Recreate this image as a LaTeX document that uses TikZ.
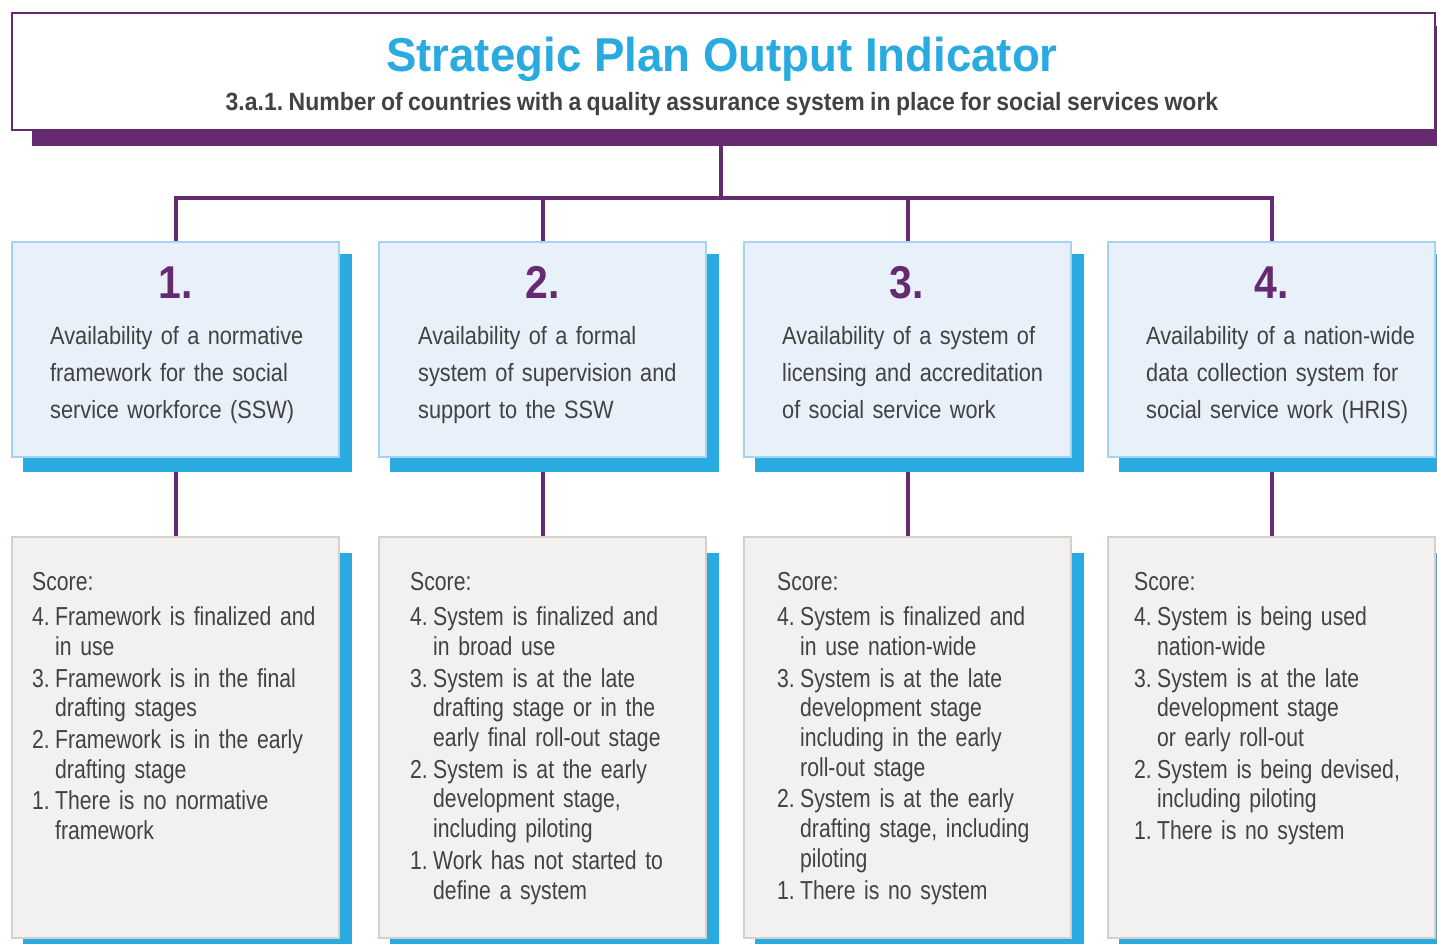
\documentclass[tikz,border=0pt]{standalone}
\usepackage{fontspec}
\setmainfont{Liberation Sans}
\newfontfamily\titlefont[FakeStretch=0.96]{Liberation Sans}
\newfontfamily\subfont[FakeStretch=0.92,WordSpace=0.85]{Liberation Sans}
\newfontfamily\numfont[FakeStretch=0.89]{Liberation Sans}
\newfontfamily\leadfont[FakeStretch=0.87,WordSpace=0.7]{Liberation Sans}
\newfontfamily\scorefont[FakeStretch=0.815,WordSpace=0.7]{Liberation Sans}
\usetikzlibrary{backgrounds}
\frenchspacing

\definecolor{plum}{HTML}{662A70}
\definecolor{sky}{HTML}{29ABE2}
\definecolor{paleblue}{HTML}{E8F0FA}
\definecolor{paleedge}{HTML}{A8D3F0}
\definecolor{stone}{HTML}{F2F1EF}
\definecolor{stoneedge}{HTML}{D6D0C9}
\definecolor{ink}{HTML}{424242}

% heading line of a score list, followed by a little extra space
\newcommand\scorehead{\setlength{\parskip}{2pt}\setlength{\parindent}{0pt}%
  \noindent Score:\par\vskip 4pt\relax}
% one numbered line of a score list, with a hanging indent
\newcommand\scoreitem[2]{\hangindent=23pt\hangafter=1\noindent\makebox[23pt][l]{#1}#2\par}

\tikzset{
  hdrbox/.style={draw=plum, line width=2pt, fill=white, minimum width=1423pt,
    minimum height=117pt, inner sep=0pt},
  topbox/.style={draw=paleedge, line width=2pt, fill=paleblue, minimum width=327pt,
    minimum height=215pt, inner sep=0pt},
  scorebox/.style={draw=stoneedge, line width=2.5pt, fill=stone, minimum width=327pt,
    minimum height=401pt, inner sep=0pt},
  conn/.style={draw=plum, line width=4pt},
  numtext/.style={anchor=base, inner sep=0pt, text=plum,
    font=\numfont\bfseries\fontsize{46}{50}\selectfont},
  leadtext/.style={anchor=base west, inner sep=0pt, text=ink, text width=330pt,
    font=\leadfont\fontsize{25}{37.2}\selectfont},
  scoretext/.style={anchor=base west, inner sep=0pt, text=ink, text width=330pt,
    font=\scorefont\fontsize{26}{29.7}\selectfont},
}

\begin{document}
\begin{tikzpicture}[x=1pt, y=-1pt]
\useasboundingbox (0,0) rectangle (1437,943);

% header
\node[hdrbox] (hdr) at (723.5,71.5) {};
\node[anchor=base, inner sep=0pt, text=sky,
  font=\titlefont\bfseries\fontsize{47.5}{50}\selectfont] (title) at (722,71)
  {Strategic Plan Output Indicator};
\node[anchor=base, inner sep=0pt, text=ink,
  font=\subfont\bfseries\fontsize{25}{28}\selectfont] (subtitle) at (722,110)
  {3.a.1. Number of countries with a quality assurance system in place for social services work};

% indicator boxes
\node[topbox] (t1) at (175.5,349.5) {};
\node[topbox] (t2) at (542.5,349.5) {};
\node[topbox] (t3) at (907.5,349.5) {};
\node[topbox] (t4) at (1271.5,349.5) {};

% score boxes
\node[scorebox] (b1) at (175.5,737.5) {};
\node[scorebox] (b2) at (542.5,737.5) {};
\node[scorebox] (b3) at (907.5,737.5) {};
\node[scorebox] (b4) at (1271.5,737.5) {};

% box numbers
\node[numtext] (n1) at (176,298) {1.};
\node[numtext] (n2) at (543,298) {2.};
\node[numtext] (n3) at (907,298) {3.};
\node[numtext] (n4) at (1272,298) {4.};

% indicator descriptions
\node[leadtext] (d1) at (50,344) {Availability of a normative\\framework for the social\\service workforce (SSW)};
\node[leadtext] (d2) at (418,344) {Availability of a formal\\system of supervision and\\support to the SSW};
\node[leadtext] (d3) at (782,344) {Availability of a system of\\licensing and accreditation\\of social service work};
\node[leadtext] (d4) at (1146,344) {Availability of a nation-wide\\data collection system for\\social service work (HRIS)};

% score scales
\node[scoretext] (s1) at (32,590) {\scorehead
  \scoreitem{4.}{Framework is finalized and\newline in use}%
  \scoreitem{3.}{Framework is in the final\newline drafting stages}%
  \scoreitem{2.}{Framework is in the early\newline drafting stage}%
  \scoreitem{1.}{There is no normative\newline framework}};
\node[scoretext] (s2) at (410,590) {\scorehead
  \scoreitem{4.}{System is finalized and\newline in broad use}%
  \scoreitem{3.}{System is at the late\newline drafting stage or in the\newline early final roll-out stage}%
  \scoreitem{2.}{System is at the early\newline development stage,\newline including piloting}%
  \scoreitem{1.}{Work has not started to\newline define a system}};
\node[scoretext] (s3) at (777,590) {\scorehead
  \scoreitem{4.}{System is finalized and\newline in use nation-wide}%
  \scoreitem{3.}{System is at the late\newline development stage\newline including in the early\newline roll-out stage}%
  \scoreitem{2.}{System is at the early\newline drafting stage, including\newline piloting}%
  \scoreitem{1.}{There is no system}};
\node[scoretext] (s4) at (1134,590) {\scorehead
  \scoreitem{4.}{System is being used\newline nation-wide}%
  \scoreitem{3.}{System is at the late\newline development stage\newline or early roll-out}%
  \scoreitem{2.}{System is being devised,\newline including piloting}%
  \scoreitem{1.}{There is no system}};

% connectors and drop shadows, behind the boxes
\begin{scope}[on background layer]
  \coordinate (bar) at (0,198);
  \coordinate (stem) at ([xshift=-3pt]hdr.south);
  \draw[conn] (stem) -- (stem |- bar);
  \draw[conn] (t1.north) -- (t1.north |- bar) -- (t4.north |- bar) -- (t4.north);
  \draw[conn] (t2.north) -- (t2.north |- bar);
  \draw[conn] (t3.north) -- (t3.north |- bar);
  \foreach \i in {1,2,3,4} {
    \draw[conn] (t\i.south) -- (b\i.north);
  }
  \fill[plum] ([shift={(21pt,-14pt)}]hdr.north west) rectangle ([shift={(21pt,-15pt)}]hdr.south east);
  \foreach \i in {1,2,3,4} {
    \fill[sky] ([shift={(12pt,-13pt)}]t\i.north west) rectangle ([shift={(12pt,-14pt)}]t\i.south east);
    \fill[sky] ([shift={(12pt,-17pt)}]b\i.north west) rectangle ([shift={(12pt,-20pt)}]b\i.south east);
  }
\end{scope}
\end{tikzpicture}
\end{document}
